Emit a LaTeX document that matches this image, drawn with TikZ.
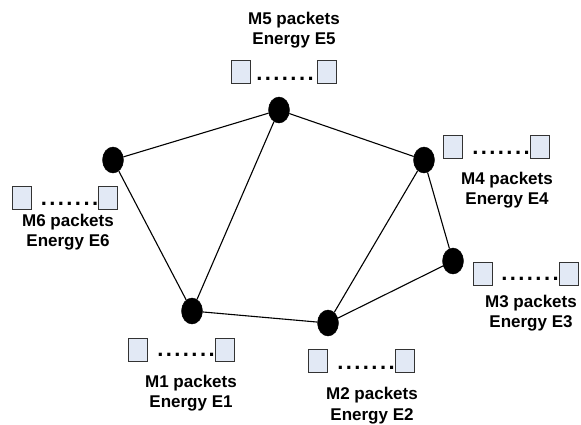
\documentclass[tikz,border=0pt]{standalone}
\usepackage{fontspec}
\setmainfont{Liberation Sans}
\usetikzlibrary{shapes.geometric}
\definecolor{pktfill}{HTML}{E2E9F5}
\definecolor{pktedge}{HTML}{333333}
\tikzset{
  mote/.style={ellipse, fill=black, draw=black, minimum width=21pt, minimum height=26pt, inner sep=0pt},
  link/.style={line width=1.1pt, black},
  pkt/.style={rectangle, draw=pktedge, fill=pktfill, line width=1pt, minimum width=19pt, minimum height=23pt, inner sep=0pt},
  gap/.style={inner sep=0pt, font=\bfseries\fontsize{22}{22}\selectfont\addfontfeature{LetterSpace=11}},
  info/.style={align=center, inner sep=0pt, font=\bfseries\fontsize{17}{20.5}\selectfont}
}
\begin{document}
\begin{tikzpicture}[x=1pt, y=-1pt]
\useasboundingbox (0,0) rectangle (581,424);

% sensor nodes
\node[mote] (n5) at (279,110) {};
\node[mote] (n6) at (113,160) {};
\node[mote] (n4) at (424,160) {};
\node[mote] (n3) at (453,261) {};
\node[mote] (n1) at (192,311) {};
\node[mote] (n2) at (328,323) {};

% radio links
\draw[link] (n6) -- (n5);
\draw[link] (n5) -- (n4);
\draw[link] (n5) -- (n1);
\draw[link] (n6) -- (n1);
\draw[link] (n1) -- (n2);
\draw[link] (n2) -- (n3);
\draw[link] (n2) -- (n4);
\draw[link] (n4) -- (n3);

% packet queues: first packet, gap, last packet
\node[pkt] (q5a) at (241,71.5) {};
\node[pkt] (q5b) at (327,71.5) {};
\node[gap] (d5) at (285,79) {.......};

\node[pkt] (q6a) at (22,197.5) {};
\node[pkt] (q6b) at (108,197.5) {};
\node[gap] (d6) at (69.5,204) {.......};

\node[pkt] (q4a) at (452.5,146.5) {};
\node[pkt] (q4b) at (539.5,146.5) {};
\node[gap] (d4) at (501,153) {.......};

\node[pkt] (q3a) at (482.5,274) {};
\node[pkt] (q3b) at (569,274) {};
\node[gap] (d3) at (530,279) {.......};

\node[pkt] (q1a) at (138,349.5) {};
\node[pkt] (q1b) at (225,349.5) {};
\node[gap] (d1) at (186,355) {.......};

\node[pkt] (q2a) at (317.5,360.5) {};
\node[pkt] (q2b) at (405,360.5) {};
\node[gap] (d2) at (366,368) {.......};

% labels
\node[info] (t5) at (294,30) {M5 packets\\Energy E5};
\node[info] (t6) at (68,232) {M6 packets\\Energy E6};
\node[info] (t4) at (507,190) {M4 packets\\Energy E4};
\node[info] (t3) at (531,313) {M3 packets\\Energy E3};
\node[info] (t1) at (191,393) {M1 packets\\Energy E1};
\node[info] (t2) at (372,405.5) {M2 packets\\Energy E2};
\end{tikzpicture}
\end{document}
